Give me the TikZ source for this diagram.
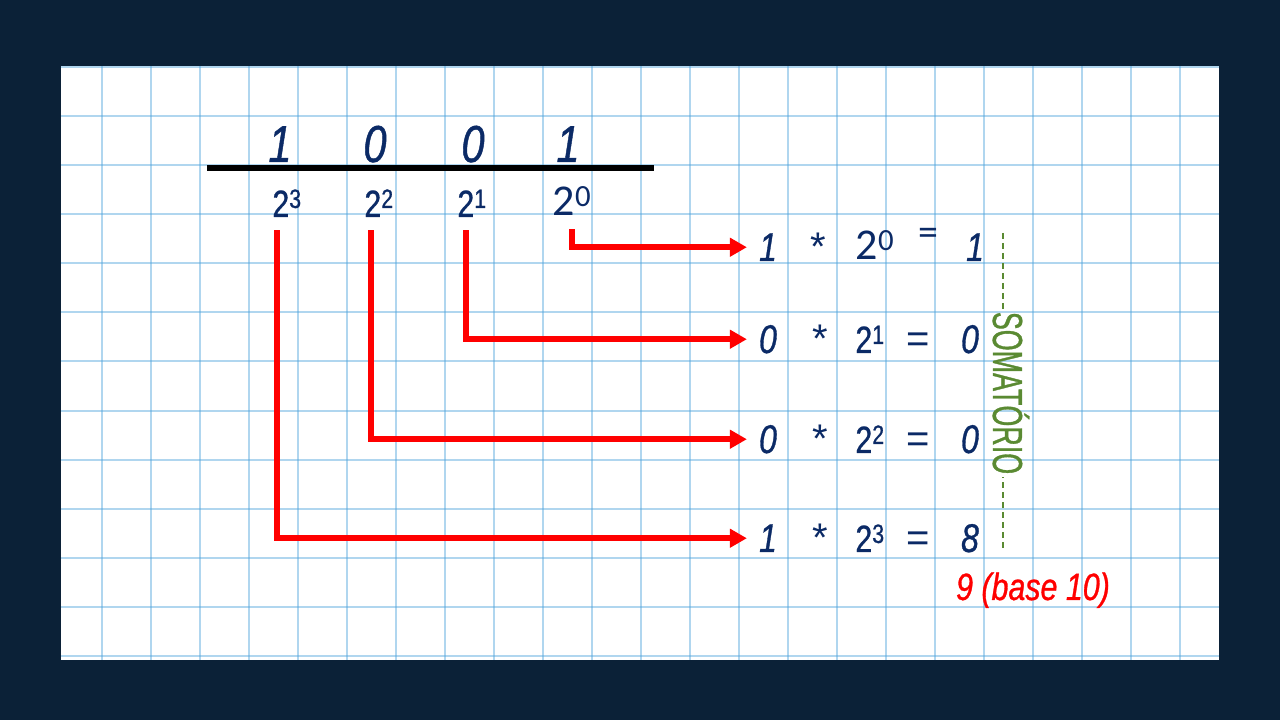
\documentclass[tikz,border=0pt]{standalone}
\usepackage{fontspec}
\setmainfont{Liberation Sans}
\newfontfamily\handfont[FakeStretch=0.8,FakeBold=0.8]{Liberation Sans}
\newfontfamily\tallfont[FakeStretch=0.64,FakeBold=0.8]{Liberation Sans}
\newfontfamily\calfont{Carlito}
\usetikzlibrary{arrows.meta,positioning}
\definecolor{navybg}{HTML}{0B2137}
\definecolor{ink}{HTML}{0B2A66}
\definecolor{gridblue}{RGB}{80,165,220}
\definecolor{sumgreen}{HTML}{5A8A32}

\begin{document}
\begin{tikzpicture}[x=1pt, y=1pt,
  gridline/.style={gridblue, line width=2pt, opacity=0.45},
  bit/.style={text=ink, anchor=base, inner sep=0pt, font=\fontsize{52}{52}\handfont\itshape},
  power/.style={text=ink, anchor=base, inner sep=0pt, font=\fontsize{38}{38}\handfont},
  term/.style={text=ink, anchor=base, inner sep=0pt, font=\fontsize{40}{40}\handfont\itshape},
  sym/.style={text=ink, anchor=base, inner sep=0pt, font=\fontsize{40}{40}\selectfont},
  bitarrow/.style={red, line width=5.5pt, shorten <=13pt, shorten >=12pt, -{Triangle[length=17pt,width=18pt]}},
  sumdash/.style={sumgreen, line width=2pt, dash pattern=on 6pt off 4pt}]
  \fill[navybg] (0,0) rectangle (1280,720);
  \fill[white] (61,60) rectangle (1219,654);
  \begin{scope}
    \clip (61,60) rectangle (1219,654);
    \foreach \k in {0,...,22}
      \draw[gridline] ({102+49*\k},60) -- ({102+49*\k},654);
    \foreach \k in {0,...,12}
      \draw[gridline] (61,{653-49.08*\k}) -- (1219,{653-49.08*\k});
  \end{scope}

  \node[bit] (b3) at (280,558) {1};
  \node[bit] (b2) at (375,558) {0};
  \node[bit] (b1) at (473,558) {0};
  \node[bit] (b0) at (568,558) {1};
  \draw[line width=5.5pt] (207,552) -- (654,552);

  \node[power] (p3) at (287,503) {2\textsuperscript{3}};
  \node[power] (p2) at (379,503) {2\textsuperscript{2}};
  \node[power] (p1) at (472,503) {2\textsuperscript{1}};
  \node[power, font=\fontsize{44}{44}\calfont] (p0) at (572,504) {2\textsuperscript{0}};

  \node[term] (t0) at (768,459) {1};
  \node[sym] at (818,459) {*};
  \node[power, font=\fontsize{44}{44}\calfont] at (875,460) {2\textsuperscript{0}};
  \node[sym, font=\fontsize{40}{40}\calfont] at (928,474) {=};
  \node[term] at (975,459) {1};
  \foreach \k/\b/\r/\y in {1/0/0/367, 2/0/0/267, 3/1/8/168} {
    \node[term] (t\k) at (768,\y) {\b};
    \node[sym] at (820,\y) {*};
    \node[power] at (870,\y) {2\textsuperscript{\k}};
    \node[sym] at (918,\y) {=};
    \node[term] at (970,\y) {\r};
  }

  \foreach \k/\dx in {0/0, 1/-6, 2/-8, 3/-10}
    \draw[bitarrow] ([xshift=\dx]p\k.south) |- (t\k.west);

  \node[text=sumgreen, anchor=base, rotate=-90, inner sep=3pt, font=\fontsize{42}{42}\tallfont] (soma) at (993,327) {SOMATÓRIO};
  \coordinate (sumtop) at (1003,487);
  \coordinate (sumbot) at (1003,172);
  \draw[sumdash] (sumtop) -- (sumtop |- soma.west);
  \draw[sumdash] (sumbot) -- (sumbot |- soma.east);

  \node[text=red, anchor=base, inner sep=0pt, font=\fontsize{38}{38}\handfont\itshape] (total) at (1033,120) {9 (base 10)};
\end{tikzpicture}
\end{document}
